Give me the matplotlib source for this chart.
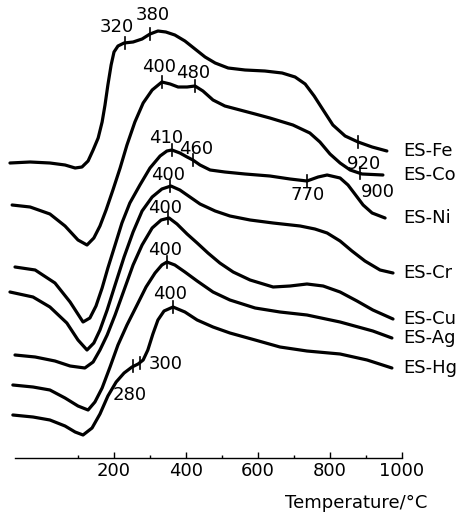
import matplotlib.pyplot as plt
import numpy as np

plt.rcParams["font.family"] = ["DejaVu Sans"]

# DTA traces: temperature in degC, signal in arbitrary units
# (each trace already carries its own vertical offset)
fe_temp = [-89, -33, 22, 64, 92, 111, 128, 142, 156, 167, 175, 183, 192, 200, 211, 228,
           253, 278, 300, 322, 344, 369, 397, 425, 453, 481, 517, 564, 619, 667, 703,
           731, 756, 781, 808, 842, 878, 917, 958]
fe_dta = [307, 308, 307, 305, 302, 303, 309, 320, 332, 348, 365, 385, 405, 418, 424, 427,
          428, 431, 436, 439, 438, 435, 429, 421, 413, 407, 402, 400, 399, 397, 393,
          386, 374, 360, 345, 334, 328, 323, 319]

co_temp = [-83, -33, 22, 64, 100, 125, 144, 161, 178, 197, 217, 236, 258, 281, 306, 333,
           356, 378, 403, 425, 447, 475, 508, 550, 592, 633, 697, 744, 772, 800, 828,
           856, 889, 947]
co_dta = [265, 263, 256, 244, 230, 225, 232, 244, 260, 280, 302, 325, 348, 367, 380, 388,
          386, 383, 383, 384, 379, 370, 364, 360, 356, 352, 345, 337, 328, 316, 307,
          300, 296, 295]

ni_temp = [-75, -19, 36, 78, 114, 133, 150, 167, 183, 203, 222, 244, 272, 300, 328, 347,
           361, 383, 403, 419, 439, 467, 508, 564, 633, 689, 736, 767, 792, 828, 850,
           869, 892, 917, 953]
ni_dta = [203, 200, 187, 168, 148, 152, 164, 182, 202, 225, 247, 267, 285, 302, 314, 319,
          320, 317, 313, 310, 305, 300, 298, 296, 294, 291, 289, 293, 295, 292, 285,
          276, 265, 257, 252]

cr_temp = [-89, -25, 22, 69, 100, 125, 144, 161, 181, 203, 228, 253, 278, 306, 333, 358,
           383, 411, 439, 481, 522, 578, 642, 717, 758, 792, 828, 861, 897, 939, 975]
cr_dta = [178, 173, 163, 147, 130, 120, 127, 140, 160, 185, 213, 238, 259, 273, 281, 284,
          280, 273, 266, 259, 254, 250, 247, 244, 241, 237, 229, 219, 209, 200, 197]

cu_temp = [-75, -19, 36, 78, 119, 142, 161, 181, 203, 228, 253, 278, 306, 331, 353, 375,
           403, 431, 461, 494, 531, 578, 642, 689, 736, 781, 828, 875, 919, 975]
cu_dta = [115, 113, 109, 104, 102, 108, 120, 135, 155, 180, 205, 225, 242, 250, 252, 246,
          236, 227, 217, 207, 198, 190, 183, 184, 186, 184, 178, 169, 160, 151]

ag_temp = [-81, -25, 22, 64, 100, 128, 147, 167, 189, 211, 236, 264, 289, 314, 333, 347,
           369, 397, 431, 475, 522, 592, 661, 736, 828, 919, 972]
ag_dta = [85, 83, 80, 72, 64, 60, 68, 82, 103, 125, 145, 165, 183, 197, 205, 208,
          205, 198, 189, 178, 170, 162, 158, 155, 148, 139, 132]

hg_temp = [-81, -25, 22, 64, 92, 114, 139, 161, 183, 206, 228, 250, 267, 281, 294, 308,
           322, 339, 364, 397, 431, 475, 522, 592, 661, 736, 828, 903, 972]
hg_dta = [55, 53, 50, 44, 38, 35, 42, 56, 74, 88, 97, 103, 106, 110, 120, 136,
          150, 159, 163, 158, 150, 143, 137, 130, 123, 119, 116, 110, 102]

sample_names = ["ES-Fe", "ES-Co", "ES-Ni", "ES-Cr", "ES-Cu", "ES-Ag", "ES-Hg"]
sample_temps = [fe_temp, co_temp, ni_temp, cr_temp, cu_temp, ag_temp, hg_temp]
sample_dtas = [fe_dta, co_dta, ni_dta, cr_dta, cu_dta, ag_dta, hg_dta]

# marked peaks: (sample index, position on the trace in degC, printed value)
peak_marks = [
    (0, 231, "320"), (0, 300, "380"), (0, 878, "920"),
    (1, 333, "400"), (1, 425, "480"), (1, 883, "900"),
    (2, 361, "410"), (2, 419, "460"), (2, 736, "770"),
    (3, 356, "400"),
    (4, 350, "400"),
    (5, 347, "400"),
    (6, 364, "400"), (6, 253, "280"), (6, 272, "300"),
]
# where each printed value sits relative to its tick (pixels)
mark_offsets = [
    (-8, 16), (3, 19), (6, -22),
    (-3, 15), (-2, 13), (18, -19),
    (-6, 12), (3, 11), (1, -14),
    (-2, 11),
    (-3, 10),
    (-2, 12),
    (-3, 13), (-3, -29), (26, -1),
]

fig = plt.figure(figsize=(4.7, 5.18), dpi=100)
ax = fig.add_axes([9.6 / 470, 60 / 518, 392.4 / 470, 458 / 518])

for temps, dta, name in zip(sample_temps, sample_dtas, sample_names):
    ax.plot(temps, dta, color="black", lw=2.3, solid_capstyle="round",
            solid_joinstyle="round", clip_on=False)
    ax.text(1003, dta[-1], name, fontsize=13, ha="left", va="center")

for (idx, t, txt), (dx, dy) in zip(peak_marks, mark_offsets):
    y = np.interp(t, sample_temps[idx], sample_dtas[idx])
    ax.plot([t, t], [y - 6, y + 6], color="black", lw=1.2)
    ax.annotate(txt, (t, y), xytext=(dx, dy), textcoords="offset pixels",
                fontsize=13, ha="center", va="center")

ax.set_xlim(-90, 1000)
ax.set_ylim(12, 470)
for side in ["top", "left", "right"]:
    ax.spines[side].set_visible(False)
ax.spines["bottom"].set_bounds(-75, 1000)
ax.spines["bottom"].set_linewidth(1.0)
ax.set_yticks([])
ax.set_xticks([200, 400, 600, 800, 1000])
ax.set_xticks([100, 300, 500, 700, 900], minor=True)
ax.tick_params(axis="x", which="major", direction="in", length=4, width=1.0,
               labelsize=13, pad=3)
ax.tick_params(axis="x", which="minor", direction="in", length=2.4, width=1.0)

ax.set_xlabel("Temperature/°C", fontsize=13, ha="right", va="center")
ax.xaxis.set_label_coords((427 - 9.6) / 392.4, (458 - 503) / 458)

fig.savefig("out.png", dpi=100)
